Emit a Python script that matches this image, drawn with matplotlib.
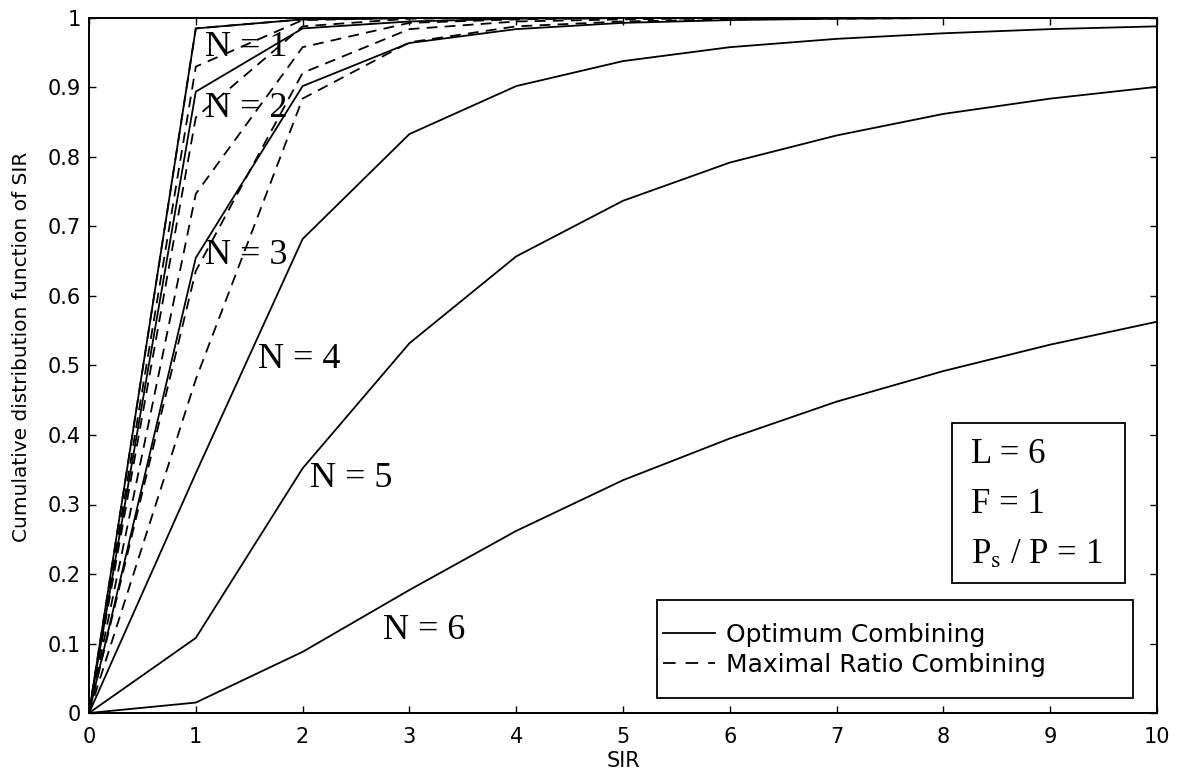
import matplotlib
matplotlib.use("Agg")
import matplotlib.pyplot as plt
from matplotlib.patches import Rectangle
from matplotlib.lines import Line2D

# ---- data -------------------------------------------------------------
sir = [0, 1, 2, 3, 4, 5, 6, 7, 8, 9, 10]

# Optimum combining (solid), N = 1..6
oc_n1 = [0, 0.985, 0.998, 1.0, 1.0, 1.0, 1.0, 1.0, 1.0, 1.0, 1.0]
oc_n2 = [0, 0.894, 0.985, 0.995, 0.999, 1.0, 1.0, 1.0, 1.0, 1.0, 1.0]
oc_n3 = [0, 0.655, 0.902, 0.964, 0.984, 0.993, 0.997, 0.999, 1.0, 1.0, 1.0]
oc_n4 = [0, 0.345, 0.682, 0.833, 0.902, 0.938, 0.958, 0.970, 0.978, 0.984, 0.988]
oc_n5 = [0, 0.108, 0.352, 0.532, 0.657, 0.737, 0.792, 0.831, 0.862, 0.884, 0.901]
oc_n6 = [0, 0.015, 0.088, 0.177, 0.262, 0.335, 0.395, 0.448, 0.492, 0.530, 0.563]

# Maximal ratio combining (dashed), N = 1..6
mrc_n1 = [0, 0.985, 0.998, 1.0, 1.0, 1.0, 1.0, 1.0, 1.0, 1.0, 1.0]
mrc_n2 = [0, 0.930, 0.997, 1.0, 1.0, 1.0, 1.0, 1.0, 1.0, 1.0, 1.0]
mrc_n3 = [0, 0.857, 0.988, 0.999, 1.0, 1.0, 1.0, 1.0, 1.0, 1.0, 1.0]
mrc_n4 = [0, 0.747, 0.958, 0.993, 0.998, 1.0, 1.0, 1.0, 1.0, 1.0, 1.0]
mrc_n5 = [0, 0.636, 0.921, 0.984, 0.995, 0.998, 1.0, 1.0, 1.0, 1.0, 1.0]
mrc_n6 = [0, 0.480, 0.884, 0.965, 0.988, 0.995, 0.998, 0.999, 1.0, 1.0, 1.0]

oc_series = [oc_n1, oc_n2, oc_n3, oc_n4, oc_n5, oc_n6]
mrc_series = [mrc_n1, mrc_n2, mrc_n3, mrc_n4, mrc_n5, mrc_n6]

curve_labels = ["N = 1", "N = 2", "N = 3", "N = 4", "N = 5", "N = 6"]
label_pos = [(1.09, 0.958), (1.09, 0.870), (1.09, 0.658),
             (1.58, 0.509), (2.07, 0.338), (2.75, 0.118)]

x_ticks = [0, 1, 2, 3, 4, 5, 6, 7, 8, 9, 10]
y_ticks = [0, 0.1, 0.2, 0.3, 0.4, 0.5, 0.6, 0.7, 0.8, 0.9, 1.0]
y_tick_labels = ["0", "0.1", "0.2", "0.3", "0.4", "0.5", "0.6", "0.7", "0.8", "0.9", "1"]

legend_labels = ["Optimum Combining", "Maximal Ratio Combining"]
param_lines = ["L = 6", "F = 1", r"P$_{\rm s}$ / P = 1"]

# ---- figure -----------------------------------------------------------
plt.rcParams["font.family"] = ["DejaVu Sans"]
plt.rcParams["mathtext.fontset"] = "stix"

W, H = 1183, 776
fig = plt.figure(figsize=(W / 100, H / 100), dpi=100)
L, R, T, B = 89, 1157, 18, 713
ax = fig.add_axes([L / W, 1 - B / H, (R - L) / W, (B - T) / H])

lw = 1.3
dash = (0, (6, 4))
for s in oc_series:
    ax.plot(sir, s, color="black", lw=lw, solid_joinstyle="miter")
for s in mrc_series:
    ax.plot(sir, s, color="black", lw=lw, linestyle=dash)

ax.set_xlim(0, 10)
ax.set_ylim(0, 1)
ax.set_xticks(x_ticks)
ax.set_yticks(y_ticks)
ax.set_yticklabels(y_tick_labels)
ax.tick_params(direction="in", length=5, width=1.0, top=True, right=True,
               labelsize=15, colors="black")
ax.tick_params(axis="x", pad=10)
ax.tick_params(axis="y", pad=6)
for sp in ax.spines.values():
    sp.set_linewidth(1.4)

ax.set_xlabel("SIR", fontsize=15, labelpad=3)
fig.text(22 / W, 1 - 347 / H, "Cumulative distribution function of SIR",
         rotation=90, ha="center", va="center", fontsize=14.5)

serif = ["Liberation Serif", "DejaVu Serif"]
for lab, (px, py) in zip(curve_labels, label_pos):
    ax.text(px, py, lab, family=serif, fontsize=26, ha="left", va="center")

# parameter box
ax.add_patch(Rectangle((0.808, 0.187), 0.162, 0.230, transform=ax.transAxes,
                       fill=False, edgecolor="black", lw=1.3, zorder=5))
for txt, yb in zip(param_lines, [0.360, 0.288, 0.216]):
    ax.text(0.826, yb, txt, transform=ax.transAxes, family=serif,
            fontsize=25, ha="left", va="baseline")

# legend
ax.add_patch(Rectangle((0.532, 0.0216), 0.4455, 0.141, transform=ax.transAxes,
                       facecolor="white", edgecolor="black", lw=1.3, zorder=5))
handles = [Line2D([], [], color="black", lw=lw),
           Line2D([], [], color="black", lw=lw, linestyle=(0, (7, 5.5)))]
leg = ax.legend(handles, legend_labels, loc="center left",
                bbox_to_anchor=(0.537, 0.0906), frameon=False,
                fontsize=18, handlelength=2.1, handletextpad=0.45,
                borderpad=0, borderaxespad=0, labelspacing=0.25)
leg.set_zorder(6)

fig.savefig("out.png", dpi=100, facecolor="white")
